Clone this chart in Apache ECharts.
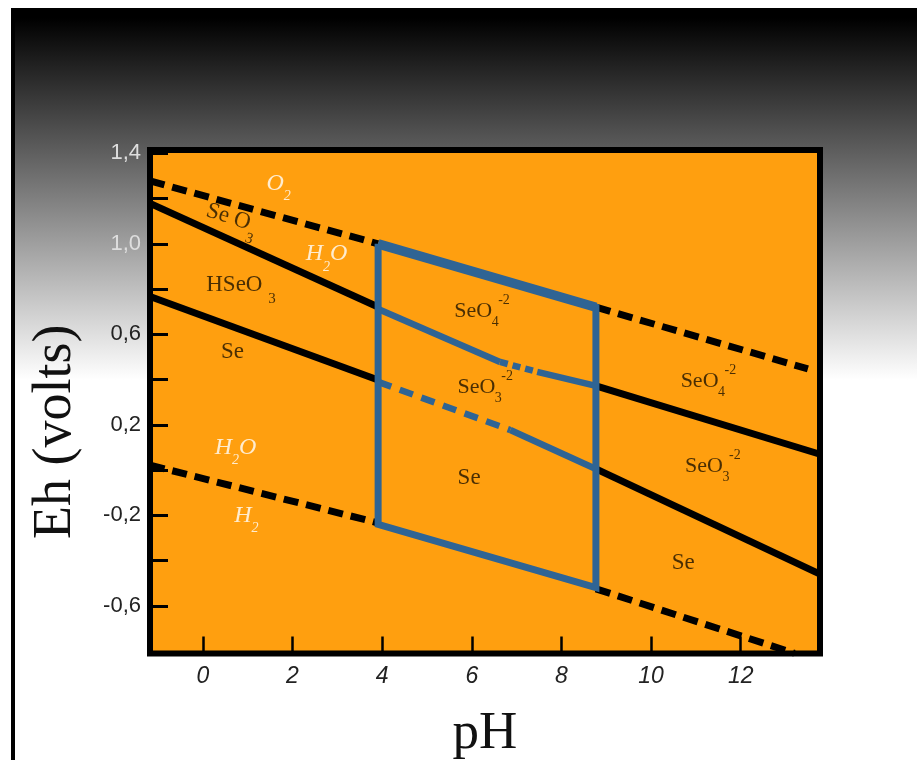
<!DOCTYPE html>
<html><head><meta charset="utf-8">
<script src="https://cdn.jsdelivr.net/npm/echarts@6/dist/echarts.min.js"></script>
<style>html,body{margin:0;padding:0;background:#fff}#c{width:917px;height:760px}</style>
</head><body><div id="c"></div>
<script>
// ---- axis ticks / labels ----
const xTicks = [0, 2, 4, 6, 8, 10, 12];
const yTicks = [-0.6, -0.4, -0.2, 0, 0.2, 0.4, 0.6, 0.8, 1.0, 1.2, 1.4];
const yLabelValues = [-0.6, -0.2, 0.2, 0.6, 1.0, 1.4];
const yLabelTexts = ['-0,6', '-0,2', '0,2', '0,6', '1,0', '1,4'];

// ---- water stability limits (dashed black) ----
const o2Left   = [[-1.18, 1.278], [3.91, 1.0]];
const o2Right  = [[8.77, 0.72], [13.5, 0.447]];
const h2Left   = [[-1.18, 0.022], [3.91, -0.234]];
const h2Right  = [[8.77, -0.525], [13.2, -0.81]];

// ---- Se species boundaries (solid black) ----
const upperLeft  = [[-1.18, 1.179], [3.91, 0.721]];
const upperRight = [[8.77, 0.372], [13.77, 0.07]];
const lowerLeft  = [[-1.18, 0.767], [3.91, 0.398]];
const lowerRight = [[8.77, 0.005], [13.77, -0.46]];

// ---- blue box (pH 4 - 8.8 window) ----
const boxOutline = [[3.91, 1.0], [3.91, -0.24], [8.77, -0.52], [8.77, 0.72]];
const boxTop     = [[3.91, 1.0], [8.77, 0.72]];
const blueUpperA = [[3.91, 0.712], [6.63, 0.478]];
const blueUpperB = [[6.63, 0.478], [7.46, 0.434]];
const blueUpperC = [[7.46, 0.434], [8.77, 0.372]];
const blueLowerA = [[3.91, 0.39], [6.86, 0.177]];
const blueLowerB = [[6.86, 0.177], [8.77, 0.005]];

// ---- annotations ----
const annoText = ['O2', 'Se O3', 'H2O', 'HSeO 3', 'Se', 'SeO4-2', 'SeO3-2', 'Se', 'SeO4-2', 'SeO3-2', 'Se', 'H2O', 'H2'];
const annoPH   = [1.69, 0.65, 2.76, 0.85, 0.66, 6.23, 6.30, 5.94, 11.28, 11.38, 10.72, 0.73, 0.97];
const annoEh   = [1.267, 1.114, 0.955, 0.820, 0.522, 0.703, 0.367, -0.033, 0.394, 0.018, -0.411, 0.100, -0.201];

const TXT = '#1c1200';
const SERIF = 'Liberation Serif, Times New Roman, serif';
const SANS = 'Liberation Sans, Arial, sans-serif';
const BLUE = '#2f6494';

function richFor(t) {
  switch (t) {
    case 'O2': return '{wi|O}{wsub|2}';
    case 'H2O': return '{wi|H}{wsub|2}{wi|O}';
    case 'H2': return '{wi|H}{wsub|2}';
    case 'Se O3': return '{hb|Se O}{hsub|3}';
    case 'HSeO 3': return '{hb|HSeO }{hsub|3}';
    case 'Se': return '{se|Se}';
    case 'SeO4-2': return '{b|SeO}{subz|4}{sup|-2}';
    case 'SeO3-2': return '{b|SeO}{subz|3}{sup|-2}';
  }
  return t;
}

function seg(data, color, width, type, z) {
  return {
    type: 'line', data: data, symbol: 'none', showSymbol: false, silent: true,
    animation: false, clip: true, z: z || 2,
    lineStyle: { color: color, width: width, type: type || 'solid', cap: 'butt', join: 'miter' }
  };
}

const chart = echarts.init(document.getElementById('c'), null, { renderer: 'canvas' });

const option = {
  animation: false,
  backgroundColor: '#ffffff',
  graphic: [
    { type: 'rect', z: -100, silent: true, shape: { x: 11, y: 8, width: 906, height: 372 },
      style: { fill: new echarts.graphic.LinearGradient(0, 0, 0, 1, [
        { offset: 0, color: '#000000' }, { offset: 0.027, color: '#000000' }, { offset: 1, color: '#ffffff' }]) } },
    { type: 'rect', z: -99, silent: true, shape: { x: 11, y: 8, width: 4, height: 752 }, style: { fill: '#000' } }
  ],
  grid: {
    left: 150, right: 97, top: 150, bottom: 106.5,
    show: true, backgroundColor: '#ff9f0f', borderColor: '#000', borderWidth: 6,
    containLabel: false, outerBoundsMode: 'none'
  },
  xAxis: {
    type: 'value', min: -1.18, max: 13.77, position: 'bottom',
    axisLine: { show: false, onZero: false }, splitLine: { show: false },
    axisTick: { show: true, inside: true, length: 17, customValues: xTicks, lineStyle: { color: '#000', width: 2.5 } },
    axisLabel: { show: true, customValues: xTicks, fontFamily: SANS, fontStyle: 'italic', fontSize: 23, color: '#222', margin: 12 },
    name: 'pH', nameLocation: 'middle', nameGap: 54,
    nameTextStyle: { fontFamily: SERIF, fontSize: 53, color: '#111' }
  },
  yAxis: {
    type: 'value', min: -0.811, max: 1.415, position: 'left',
    axisLine: { show: false, onZero: false }, splitLine: { show: false },
    axisTick: { show: true, inside: true, length: 18, customValues: yTicks, lineStyle: { color: '#000', width: 3 } },
    axisLabel: {
      show: true, customValues: yLabelValues, margin: 9,
      formatter: function (v) {
        let i = yLabelValues.findIndex(function (x) { return Math.abs(x - v) < 1e-6; });
        const t = i >= 0 ? yLabelTexts[i] : String(v);
        return v > 0.9 ? '{l|' + t + '}' : '{d|' + t + '}';
      },
      rich: {
        l: { fontFamily: SANS, fontSize: 22, color: '#dedede' },
        d: { fontFamily: SANS, fontSize: 22, color: '#222' }
      }
    },
    name: 'Eh (volts)', nameLocation: 'middle', nameGap: 67,
    nameTextStyle: { fontFamily: SERIF, fontSize: 54, color: '#111', padding: [0, 60, 0, 0] }
  },
  series: [
    seg(o2Left, '#000', 7, [15, 8]),
    seg(o2Right, '#000', 7, [15, 8]),
    seg(h2Left, '#000', 7, [15, 8]),
    seg(h2Right, '#000', 7, [15, 8]),
    seg(upperLeft, '#000', 7),
    seg(upperRight, '#000', 7),
    seg(lowerLeft, '#000', 7),
    seg(lowerRight, '#000', 7),
    seg(blueUpperA, BLUE, 6.5, 'solid', 3),
    seg(blueUpperB, BLUE, 6.5, [8, 5], 3),
    seg(blueUpperC, BLUE, 6.5, 'solid', 3),
    seg(blueLowerA, BLUE, 6.5, [14, 9], 3),
    seg(blueLowerB, BLUE, 6.5, 'solid', 3),
    seg(boxOutline.concat([boxOutline[0]]), BLUE, 7, 'solid', 4),
    seg(boxTop, BLUE, 9.5, 'solid', 4),
    {
      type: 'scatter', silent: true, animation: false, z: 5,
      symbolSize: 1, itemStyle: { color: 'rgba(0,0,0,0)' },
      data: annoText.map(function (t, i) {
        const item = { name: t, value: [annoPH[i], annoEh[i]] };
        if (t === 'Se O3') item.label = { rotate: -18 };
        return item;
      }),
      label: {
        show: true, position: 'inside',
        formatter: function (p) { return richFor(p.name); },
        rich: {
          b:    { fontFamily: SERIF, fontSize: 22, color: TXT, lineHeight: 36, verticalAlign: 'middle' },
          subz: { fontFamily: SERIF, fontSize: 14, color: TXT, lineHeight: 12, verticalAlign: 'bottom', width: 6 },
          sup:  { fontFamily: SERIF, fontSize: 14, color: TXT, lineHeight: 12, verticalAlign: 'top' },
          se:   { fontFamily: SERIF, fontSize: 23, color: TXT, lineHeight: 30, verticalAlign: 'middle' },
          hb:   { fontFamily: SERIF, fontSize: 23, color: TXT, lineHeight: 44, verticalAlign: 'middle' },
          hsub: { fontFamily: SERIF, fontSize: 15, color: TXT, lineHeight: 12, verticalAlign: 'bottom' },
          wi:   { fontFamily: SERIF, fontStyle: 'italic', fontSize: 24, color: '#ffffff', lineHeight: 40, verticalAlign: 'middle' },
          wsub: { fontFamily: SERIF, fontStyle: 'italic', fontSize: 14, color: '#ffffff', lineHeight: 12, verticalAlign: 'bottom' }
        }
      }
    }
  ]
};
chart.setOption(option);
</script>
</body></html>
